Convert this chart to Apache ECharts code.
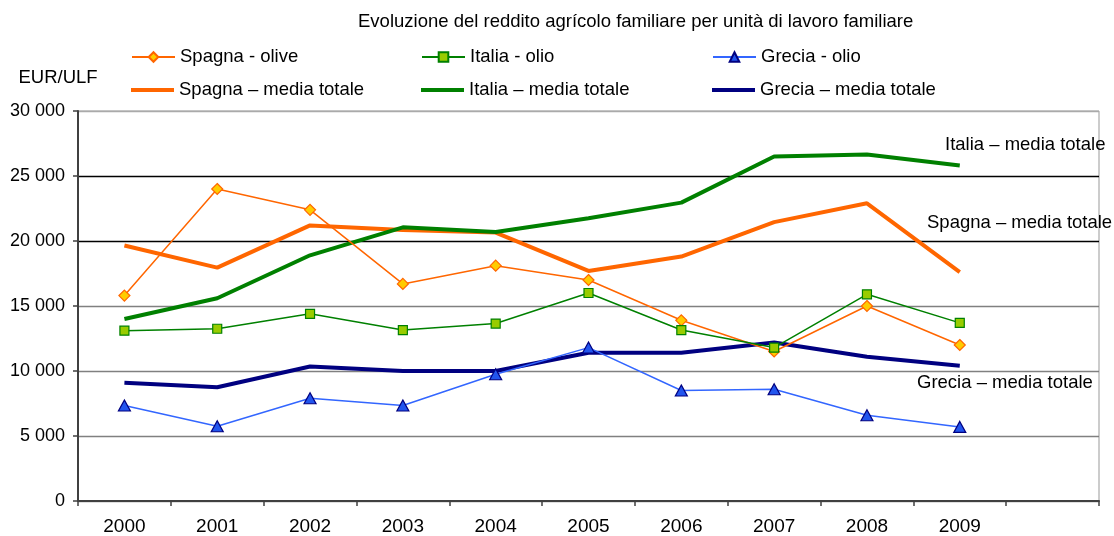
<!DOCTYPE html>
<html>
<head>
<meta charset="utf-8">
<script src="https://cdn.jsdelivr.net/npm/echarts@6/dist/echarts.min.js"></script>
<style>html,body{margin:0;padding:0;background:#fff}#c{width:1114px;height:536px}</style>
</head>
<body>
<div id="c"></div>
<script>
var categories = ['2000','2001','2002','2003','2004','2005','2006','2007','2008','2009',''];
var spagnaOlive = [15800, 24000, 22400, 16700, 18100, 17000, 13900, 11500, 15000, 12000];
var italiaOlio = [13100, 13250, 14400, 13150, 13650, 16000, 13150, 11800, 15900, 13700];
var greciaOlio = [7350, 5750, 7900, 7350, 9750, 11800, 8500, 8600, 6600, 5700];
var spagnaMedia = [19650, 17950, 21200, 20850, 20650, 17700, 18800, 21450, 22900, 17600];
var italiaMedia = [14000, 15600, 18900, 21050, 20700, 21750, 22950, 26500, 26650, 25800];
var greciaMedia = [9100, 8750, 10350, 10000, 10000, 11400, 11400, 12200, 11100, 10400];

var FONT = 'Liberation Sans, Arial, sans-serif';
var FS = 18.5;
var chart = echarts.init(document.getElementById('c'), null, {renderer: 'canvas'});

function leg(name, left, top, thick) {
  var l = {
    data: [name], left: left, top: top, padding: 0, itemWidth: 43, itemHeight: thick ? 4 : 12,
    textStyle: {fontFamily: FONT, fontSize: FS, color: '#000', lineHeight: 22},
    selectedMode: false
  };
  if (thick) l.icon = 'rect';
  return l;
}

var option = {
  animation: false,
  backgroundColor: '#fff',
  title: {
    text: 'Evoluzione del reddito agrícolo familiare per unità di lavoro familiare',
    left: 358, top: 11, padding: 0,
    textStyle: {fontFamily: FONT, fontSize: FS, fontWeight: 'normal', color: '#000', lineHeight: 22}
  },
  legend: [
    leg('Spagna - olive', 131, 46),
    leg('Italia - olio', 421, 46),
    leg('Grecia - olio', 712, 46),
    leg('Spagna – media totale', 131, 79, true),
    leg('Italia – media totale', 421, 79, true),
    leg('Grecia – media totale', 712, 79, true)
  ],
  grid: {left: 78, right: 15, top: 111, bottom: 34, show: true, borderColor: '#999', borderWidth: 1},
  xAxis: {
    type: 'category', data: categories, boundaryGap: true,
    axisLine: {lineStyle: {color: '#404040', width: 2}},
    axisTick: {show: true, length: 5, interval: 0, lineStyle: {color: '#404040', width: 1.5}},
    axisLabel: {fontFamily: FONT, fontSize: 19, color: '#000', margin: 16, interval: 0}
  },
  yAxis: {
    type: 'value', min: 0, max: 30000, interval: 5000,
    axisLine: {show: true, lineStyle: {color: '#404040', width: 2}},
    axisTick: {show: true, length: 5, lineStyle: {color: '#404040', width: 1.5}},
    axisLabel: {fontFamily: FONT, fontSize: 18, color: '#000', margin: 13,
      formatter: function (v) { return v === 0 ? '0' : (v / 1000) + ' 000'; }},
    splitLine: {show: true, lineStyle: {color: ['#808080','#808080','#808080','#808080','#000000','#000000','#aaaaaa'], width: 1.3}}
  },
  graphic: [
    {type: 'text', x: 58, y: 78, style: {text: 'EUR/ULF', font: FS + 'px ' + FONT, fill: '#000', align: 'center', verticalAlign: 'middle'}},
    {type: 'text', x: 945, y: 145, style: {text: 'Italia – media totale', font: FS + 'px ' + FONT, fill: '#000', align: 'left', verticalAlign: 'middle'}},
    {type: 'text', x: 927, y: 223, style: {text: 'Spagna – media totale', font: FS + 'px ' + FONT, fill: '#000', align: 'left', verticalAlign: 'middle'}},
    {type: 'text', x: 917, y: 383, style: {text: 'Grecia – media totale', font: FS + 'px ' + FONT, fill: '#000', align: 'left', verticalAlign: 'middle'}}
  ],
  series: [
    {name: 'Spagna – media totale', type: 'line', data: spagnaMedia, z: 2, symbol: 'none',
      lineStyle: {color: '#FF6600', width: 4}, itemStyle: {color: '#FF6600'}},
    {name: 'Italia – media totale', type: 'line', data: italiaMedia, z: 2, symbol: 'none',
      lineStyle: {color: '#008000', width: 4}, itemStyle: {color: '#008000'}},
    {name: 'Grecia – media totale', type: 'line', data: greciaMedia, z: 2, symbol: 'none',
      lineStyle: {color: '#000080', width: 4}, itemStyle: {color: '#000080'}},
    {name: 'Spagna - olive', type: 'line', data: spagnaOlive, z: 3, symbol: 'diamond', symbolSize: 11,
      lineStyle: {color: '#FF6600', width: 1.5}, itemStyle: {color: '#FFCC00', borderColor: '#FF6600', borderWidth: 1.2}},
    {name: 'Italia - olio', type: 'line', data: italiaOlio, z: 3, symbol: 'rect', symbolSize: 9,
      lineStyle: {color: '#008000', width: 1.5}, itemStyle: {color: '#99CC00', borderColor: '#008000', borderWidth: 1.2}},
    {name: 'Grecia - olio', type: 'line', data: greciaOlio, z: 3, symbol: 'triangle', symbolSize: [12, 11],
      lineStyle: {color: '#3366FF', width: 1.5}, itemStyle: {color: '#2255EE', borderColor: '#000080', borderWidth: 1.2}}
  ]
};
chart.setOption(option);
</script>
</body>
</html>
